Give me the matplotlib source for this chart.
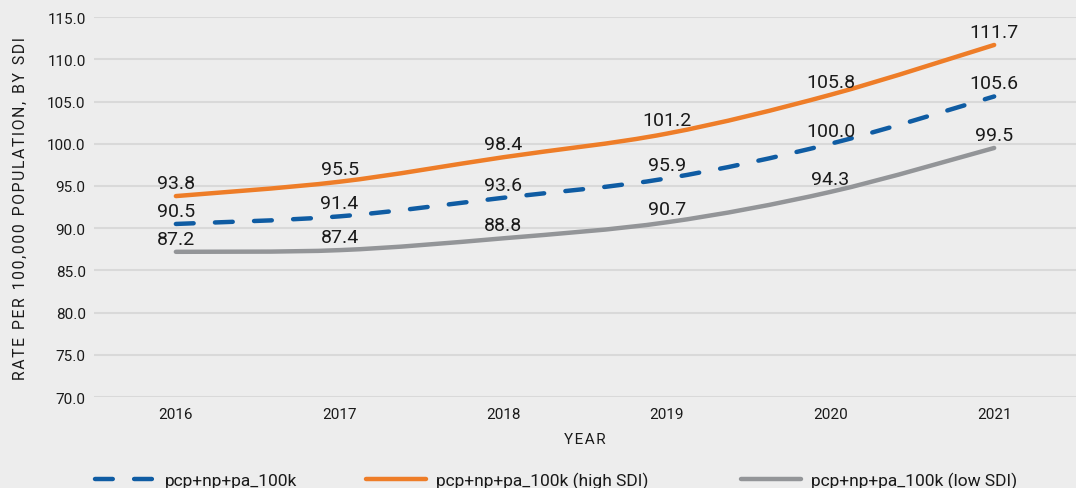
import numpy as np
import matplotlib
matplotlib.use("Agg")
import matplotlib.pyplot as plt
from matplotlib.path import Path
from matplotlib.patches import PathPatch
from matplotlib.lines import Line2D

plt.rcParams['font.family'] = ['Roboto', 'DejaVu Sans']

years = ["2016", "2017", "2018", "2019", "2020", "2021"]
all_sdi = [90.5, 91.4, 93.6, 95.9, 100.0, 105.6]
high_sdi = [93.8, 95.5, 98.4, 101.2, 105.8, 111.7]
low_sdi = [87.2, 87.4, 88.8, 90.7, 94.3, 99.5]
series_names = ["pcp+np+pa_100k", "pcp+np+pa_100k (high SDI)", "pcp+np+pa_100k (low SDI)"]

bg = "#EDEDED"
txt = "#1A1A1A"
c_blue = "#0F5CA3"
c_orange = "#EE7D28"
c_gray = "#939598"
dash = (0, (4.0, 4.8))


def smooth_path(xs, ys):
    # catmull-rom style bezier, like excel smoothed lines
    xs = np.asarray(xs, float)
    ys = np.asarray(ys, float)
    n = len(xs)
    verts = [(xs[0], ys[0])]
    codes = [Path.MOVETO]
    for i in range(n - 1):
        p0 = (xs[max(i - 1, 0)], ys[max(i - 1, 0)])
        p1 = (xs[i], ys[i])
        p2 = (xs[i + 1], ys[i + 1])
        p3 = (xs[min(i + 2, n - 1)], ys[min(i + 2, n - 1)])
        c1 = (p1[0] + (p2[0] - p0[0]) / 6, p1[1] + (p2[1] - p0[1]) / 6)
        c2 = (p2[0] - (p3[0] - p1[0]) / 6, p2[1] - (p3[1] - p1[1]) / 6)
        verts += [c1, c2, p2]
        codes += [Path.CURVE4] * 3
    return Path(verts, codes)


fig = plt.figure(figsize=(10.76, 4.89), dpi=100, facecolor=bg)
ax = fig.add_axes([0.0874, 0.186, 0.9126, 0.777], facecolor=bg)

x = np.arange(len(years))
for vals, col, ls in [(low_sdi, c_gray, "-"), (all_sdi, c_blue, dash), (high_sdi, c_orange, "-")]:
    patch = PathPatch(smooth_path(x, vals), fill=False, edgecolor=col, lw=3.2,
                      linestyle=ls, capstyle="round", joinstyle="round", zorder=3)
    ax.add_patch(patch)
    for xi, v in zip(x, vals):
        ax.annotate(f"{v:.1f}", (xi, v), xytext=(0, 3), textcoords="offset points",
                    ha="center", va="bottom", fontsize=14, color=txt, zorder=4)

ax.set_xlim(-0.5, len(years) - 0.5)
ax.set_ylim(70, 115)
ax.set_yticks(np.arange(70, 115.1, 5))
ax.set_yticklabels([f"{t:.1f}" for t in np.arange(70, 115.1, 5)])
ax.set_xticks(x)
ax.set_xticklabels(years)
ax.grid(axis="y", color="#D9D9D9", lw=1.5)
ax.set_axisbelow(True)
for s in ax.spines.values():
    s.set_visible(False)
ax.tick_params(length=0, labelsize=11, colors=txt)
ax.tick_params(axis="y", pad=6)
ax.tick_params(axis="x", pad=7)

ylab = "RATE PER 100,000 POPULATION, BY SDI"
ylab = "\u200a".join(ylab).replace("\u200a \u200a", "\u2002")
ax.set_ylabel(ylab, fontsize=11.3, color=txt, labelpad=14)
ax.set_xlabel("Y\u200aE\u200aA\u200aR", fontsize=11, color=txt, labelpad=8)

handles = [Line2D([], [], color=c_blue, lw=3.2, ls=dash, dash_capstyle="round"),
           Line2D([], [], color=c_orange, lw=3.2, solid_capstyle="round"),
           Line2D([], [], color=c_gray, lw=3.2, solid_capstyle="round")]
for h, name, x0 in zip(handles, series_names, [95, 366, 741]):
    fig.legend([h], [name], loc="center left", bbox_to_anchor=(x0 / 1076, 8 / 489),
               frameon=False, fontsize=12.5, handlelength=3.45, handletextpad=0.6,
               borderpad=0, borderaxespad=0, labelcolor=txt)

fig.savefig("out.png", dpi=100, facecolor=bg)
